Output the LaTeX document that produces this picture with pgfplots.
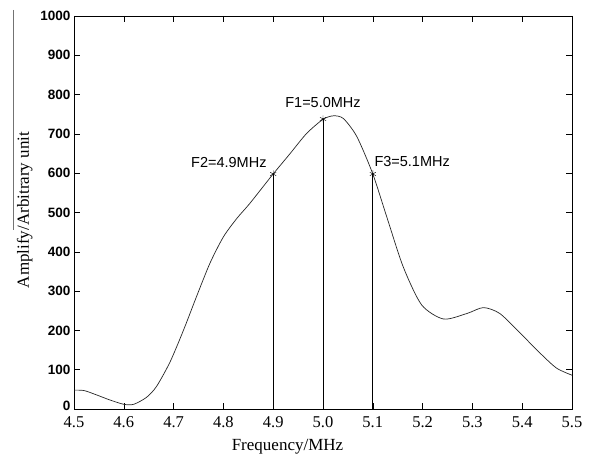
\documentclass[border=0pt]{standalone}
\usepackage{fontspec}
\setmainfont{Liberation Serif}
\newfontfamily\arial{Liberation Sans}
\usepackage{pgfplots}
\pgfplotsset{compat=1.18}
\begin{document}
\begin{tikzpicture}
\begin{axis}[
  scale only axis,
  width=498pt, height=393pt,
  at={(0,0)}, anchor=south west,
  xmin=4.5, xmax=5.5, ymin=0, ymax=1000,
  xtick={4.5,4.6,...,5.51},
  ytick={100,200,...,1000},
  extra y ticks={0},
  extra y tick style={yticklabel style={yshift=3pt}},
  tick align=inside,
  major tick length=6pt,
  tick style={black, line width=0.6pt},
  axis line style={black, line width=0.8pt},
  /pgf/number format/assume math mode=true,
  xticklabel style={font=\fontsize{16.5}{16.5}\selectfont, /pgf/number format/.cd, fixed, fixed zerofill, precision=1},
  yticklabel style={font=\arial\bfseries\fontsize{13.5}{13.5}\selectfont, /pgf/number format/1000 sep={}},
  xticklabel shift=4pt,
  yticklabel shift=0pt,
  clip=true,
]
\addplot[black!85, line width=0.7pt, smooth, tension=0.45] coordinates {
(4.500,48) (4.520,47) (4.545,36) (4.572,23) (4.600,12) (4.620,12)
(4.646,30) (4.666,58) (4.693,120) (4.720,201) (4.746,286) (4.773,371)
(4.800,438) (4.827,485) (4.853,523) (4.898,595) (4.934,650) (4.967,701)
(5.000,737) (5.021,746) (5.041,739) (5.068,693) (5.100,598) (5.128,489)
(5.161,362) (5.198,265) (5.242,229) (5.289,243) (5.322,258) (5.355,243)
(5.396,193) (5.436,142) (5.469,104) (5.500,86)
};
\addplot[black, line width=0.8pt] coordinates {(4.9,0) (4.9,598)};
\addplot[black, line width=0.8pt] coordinates {(5.0,0) (5.0,738)};
\addplot[black, line width=0.8pt] coordinates {(5.1,0) (5.1,598)};
\addplot[only marks, mark=asterisk, mark size=3.5pt, black] coordinates {(4.9,598) (5.0,738) (5.1,598)};
\node[anchor=east, inner sep=0pt, font=\arial\fontsize{14.5}{14.5}\selectfont] at (axis cs:4.887,627) {F2=4.9MHz};
\node[anchor=center, inner sep=0pt, font=\arial\fontsize{14.5}{14.5}\selectfont] at (axis cs:5.0,779) {F1=5.0MHz};
\node[anchor=west, inner sep=0pt, font=\arial\fontsize{14.5}{14.5}\selectfont] at (axis cs:5.103,629) {F3=5.1MHz};
\end{axis}
\node[anchor=base, inner sep=0pt, font=\fontsize{17}{17}\selectfont] at (213.5pt,-41pt) {Frequency/MHz};
\node[anchor=base, rotate=90, inner sep=0pt, font=\fontsize{17}{17}\selectfont] at (-45pt,199pt) {Amplify/Arbitrary unit};
\draw[black!55, line width=0.8pt] (-61pt,399pt) -- (-61pt,179pt);
\pgfresetboundingbox
\path[use as bounding box] (-74pt,-46pt) rectangle (519pt,409pt);
\end{tikzpicture}
\end{document}
